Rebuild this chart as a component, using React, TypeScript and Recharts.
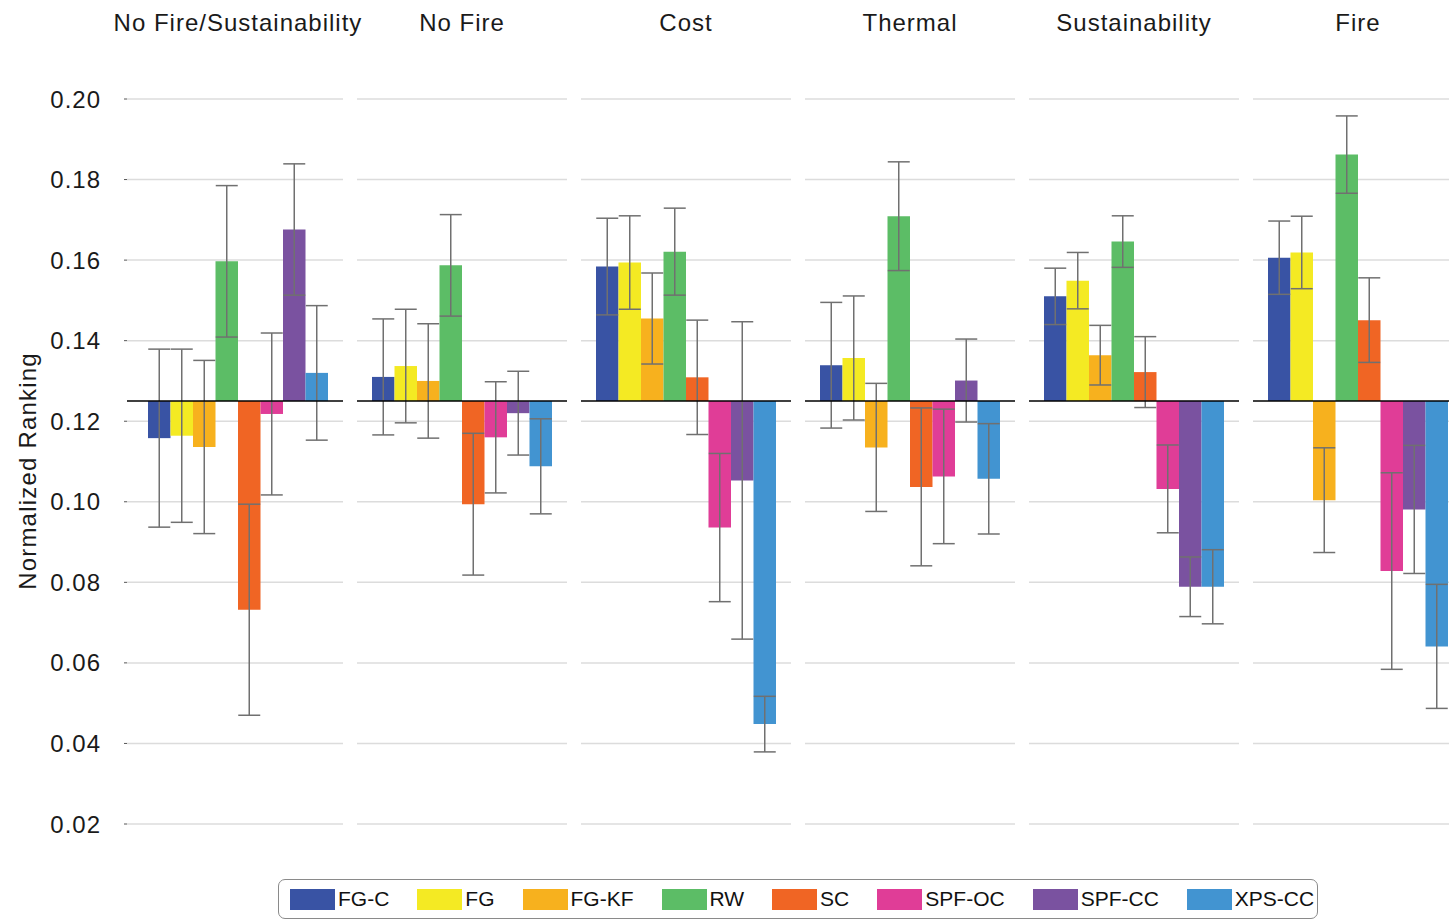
import React from 'react';
import {
  BarChart, Bar, XAxis, YAxis, CartesianGrid, ReferenceLine, ErrorBar, Label,
} from 'recharts';

const PANELS = ['No Fire/Sustainability', 'No Fire', 'Cost', 'Thermal', 'Sustainability', 'Fire'];
const MATERIALS = ['FG-C', 'FG', 'FG-KF', 'RW', 'SC', 'SPF-OC', 'SPF-CC', 'XPS-CC'];
const COLORS = ['#3953a4', '#f4ea23', '#f7b11e', '#5cbd66', '#f06524', '#e03d97', '#7a52a0', '#4294d1'];
const Y_TICKS = [0.02, 0.04, 0.06, 0.08, 0.1, 0.12, 0.14, 0.16, 0.18, 0.2];
// bars grow up/down from the equal-share line (1/8)
const BASELINE = 0.125;

// mean ranking and +/- error per material, one pair of arrays per panel
const noFireSustMean = [0.1158, 0.1164, 0.1136, 0.1597, 0.0732, 0.1218, 0.1676, 0.132];
const noFireSustErr = [0.0221, 0.0215, 0.0215, 0.0188, 0.0262, 0.0201, 0.0163, 0.0167];
const noFireMean = [0.131, 0.1337, 0.13, 0.1587, 0.0994, 0.116, 0.122, 0.1088];
const noFireErr = [0.0144, 0.0141, 0.0142, 0.0126, 0.0176, 0.0138, 0.0104, 0.0118];
const costMean = [0.1584, 0.1594, 0.1455, 0.1621, 0.1309, 0.0936, 0.1053, 0.0448];
const costErr = [0.012, 0.0116, 0.0113, 0.0108, 0.0142, 0.0184, 0.0394, 0.0069];
const thermalMean = [0.1339, 0.1357, 0.1135, 0.1709, 0.1037, 0.1063, 0.1301, 0.1057];
const thermalErr = [0.0156, 0.0154, 0.0159, 0.0135, 0.0196, 0.0167, 0.0103, 0.0137];
const sustMean = [0.151, 0.1549, 0.1364, 0.1646, 0.1322, 0.1032, 0.0789, 0.0789];
const sustErr = [0.007, 0.007, 0.0074, 0.0064, 0.0088, 0.0109, 0.0074, 0.0092];
const fireMean = [0.1606, 0.1619, 0.1004, 0.1862, 0.1451, 0.0828, 0.0981, 0.0641];
const fireErr = [0.0091, 0.009, 0.013, 0.0096, 0.0105, 0.0244, 0.0159, 0.0154];

const MEANS = [noFireSustMean, noFireMean, costMean, thermalMean, sustMean, fireMean];
const ERRS = [noFireSustErr, noFireErr, costErr, thermalErr, sustErr, fireErr];

const FONT = '"Liberation Sans", Arial, Helvetica, sans-serif';
const shiftedTicks = Y_TICKS.map((t) => t - BASELINE);
const yDomain = [shiftedTicks[0], shiftedTicks[shiftedTicks.length - 1]];

function rowFor(p: number) {
  const row: Record<string, string | number> = { name: PANELS[p] };
  MATERIALS.forEach((m, i) => {
    row[m] = MEANS[p][i] - BASELINE;
    row[`${m}_err`] = ERRS[p][i];
  });
  return [row];
}

const TitleTick = (props: any) => (
  <text x={props.x} y={props.y} textAnchor="middle" fontSize={24} letterSpacing={1} fill="#1a1a1a" fontFamily={FONT}>
    {props.payload.value}
  </text>
);

function Panel({ p }: { p: number }) {
  const first = p === 0;
  const plotLeft = first ? 127 : 133 + 224 * p;
  const axisW = first ? 127 : 0;
  // extra right room so the long first title is not clipped by the svg
  const extraRight = first ? 32 : 0;
  const width = axisW + (first ? 216 : 210) + extraRight;
  return (
    <div style={{ position: 'absolute', left: plotLeft - axisW, top: 0 }}>
      <BarChart
        width={width}
        height={921}
        data={rowFor(p)}
        margin={{ top: 0, right: extraRight, bottom: 97, left: 0 }}
        barGap={0}
        barSize={22.5}
      >
        <CartesianGrid vertical={false} stroke="#dcdcdc" strokeWidth={1.5} />
        <XAxis
          dataKey="name"
          orientation="top"
          height={99}
          axisLine={false}
          tickLine={false}
          tickSize={0}
          tickMargin={68}
          interval={0}
          padding={first ? { left: 6, right: 0 } : { left: 0, right: 0 }}
          tick={TitleTick}
        />
        <YAxis
          hide={!first}
          width={axisW}
          type="number"
          domain={yDomain}
          ticks={shiftedTicks}
          axisLine={false}
          tickSize={3}
          tickMargin={23}
          tickLine={{ stroke: '#555' }}
          tick={{ fontSize: 24, fill: '#1a1a1a', fontFamily: FONT, letterSpacing: 1 }}
          tickFormatter={(v: number) => (v + BASELINE).toFixed(2)}
        >
          {first && (
            <Label
              content={() => (
                <text
                  x={27}
                  y={471}
                  transform="rotate(-90 27 471)"
                  textAnchor="middle"
                  dominantBaseline="central"
                  fontSize={24}
                  letterSpacing={1.2}
                  fill="#1a1a1a"
                  fontFamily={FONT}
                >
                  Normalized Ranking
                </text>
              )}
            />
          )}
        </YAxis>
        {MATERIALS.map((m, i) => (
          <Bar key={m} dataKey={m} fill={COLORS[i]} isAnimationActive={false}>
            <ErrorBar dataKey={`${m}_err`} direction="y" width={11} stroke="#707070" strokeWidth={1.5} />
          </Bar>
        ))}
        <ReferenceLine y={0} stroke="#000" strokeWidth={1.5} />
      </BarChart>
    </div>
  );
}

function LegendBox() {
  return (
    <div
      style={{
        position: 'absolute', left: 278, top: 879, width: 1040, height: 40, boxSizing: 'border-box',
        border: '1.5px solid #8a8a8a', borderRadius: 7, display: 'flex', alignItems: 'center',
        paddingLeft: 11, fontFamily: FONT, fontSize: 21, color: '#111',
      }}
    >
      {MATERIALS.map((m, i) => (
        <div key={m} style={{ display: 'flex', alignItems: 'center', marginRight: i < MATERIALS.length - 1 ? 28 : 0 }}>
          <div style={{ width: 45, height: 21, background: COLORS[i], marginRight: 3 }} />
          <div>{m}</div>
        </div>
      ))}
    </div>
  );
}

export default function App() {
  return (
    <div style={{ position: 'absolute', left: 0, top: 0, width: 1449, height: 921, overflow: 'hidden', background: '#fff' }}>
      {PANELS.map((_, p) => <Panel key={p} p={p} />)}
      <LegendBox />
    </div>
  );
}
